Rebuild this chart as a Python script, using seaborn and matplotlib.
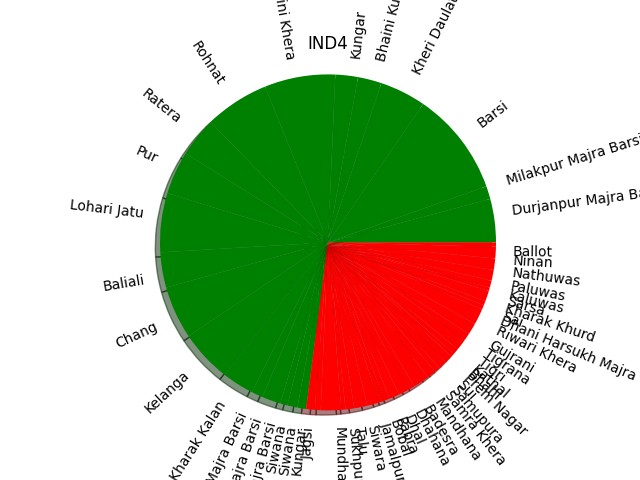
import matplotlib
matplotlib.use("Agg")
import matplotlib.pyplot as plt
import seaborn as sns

# villages in the green zone (counter-clockwise from 3 o'clock)
green_villages = [
    'Durjanpur Majra Barsi', 'Milakpur Majra Barsi', 'Barsi', 'Kheri Daulatpur',
    'Bhaini Kungar', 'Kungar', 'Bhaini Khera', 'Rohnat', 'Ratera', 'Pur',
    'Lohari Jatu', 'Baliali', 'Chang', 'Kelanga', 'Kharak Kalan',
    'Dhani Majra Barsi', 'Ladhot Majra Barsi', 'Bhaini Majra Barsi',
    'Siwana', 'Siwana',
]
green_shares = [15, 4.5, 36, 16, 8.2, 7.8, 24.5, 22.3, 13.7, 15,
                20.4, 12.2, 18.3, 18.1, 11, 4, 6.5, 2.5, 3.5, 3]

# villages in the red zone
red_villages = [
    'Kungar', 'Jagsi', 'Mundhal', 'Sukhpura', 'Talu', 'Siwara', 'Jamalpur',
    'Bobal', 'Pabra', 'Dhal', 'Dhahana', 'Badesra', 'Mandhana', 'Samra Khera',
    'Samupura', 'Sui', 'Prem Nagar', 'Bhahi', 'Kathal', 'Tigri', 'Tigrana',
    'Gujrani', 'Riwari Khera', 'Dhani Harsukh Majra', 'Sai', 'Kharak Khurd',
    'Sarsa', 'Kaluwas', 'Paluwas', 'Nathuwas', 'Ninan', 'Ballot',
]
red_shares = [3, 2, 7, 1.5, 3, 4.5, 4, 2, 2, 3.5, 3.5, 2.5, 5.5, 3,
              2, 3, 2.7, 1.3, 2, 4, 2.5, 4, 5.5, 1.5, 1.5, 3.7,
              1.2, 2.4, 3.7, 4, 4, 1.5]

zone_colors = {'green': 'green', 'red': 'red'}

villages = green_villages + red_villages
shares = green_shares + red_shares
zones = ['green'] * len(green_villages) + ['red'] * len(red_villages)

colors = sns.color_palette([zone_colors[z] for z in zones])

fig, ax = plt.subplots(figsize=(6.4, 4.8), dpi=100)
ax.pie(shares, labels=villages, colors=colors, shadow=True, rotatelabels=True)
ax.set_xlim(-1.1, 1.1)
ax.set_ylim(-1.1, 1.1)
ax.set_title('IND4')

plt.savefig('out.png', dpi=100)
